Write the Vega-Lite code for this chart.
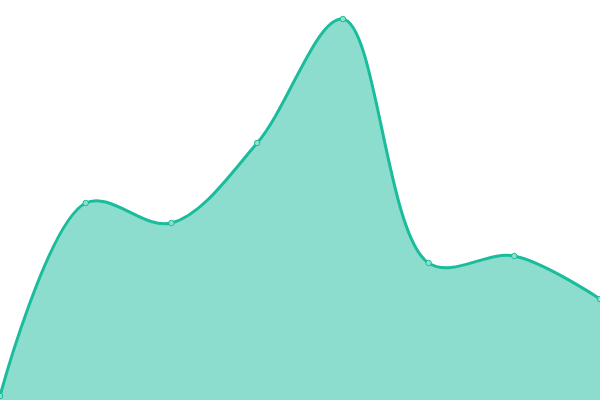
{
  "$schema": "https://vega.github.io/schema/vega-lite/v6.json",
  "autosize": "none",
  "width": 600,
  "height": 400,
  "padding": 0,
  "data": {
    "values": [
      {"i": 0, "v": 4},
      {"i": 1, "v": 197},
      {"i": 2, "v": 177},
      {"i": 3, "v": 257},
      {"i": 4, "v": 381},
      {"i": 5, "v": 137},
      {"i": 6, "v": 144},
      {"i": 7, "v": 101}
    ]
  },
  "encoding": {
    "x": {"field": "i", "type": "quantitative", "scale": {"domain": [0, 7], "nice": false}, "axis": null},
    "y": {"field": "v", "type": "quantitative", "scale": {"domain": [0, 400], "nice": false}, "axis": null}
  },
  "layer": [
    {"mark": {"type": "area", "interpolate": "catmull-rom", "color": "#1abc9c", "opacity": 0.5}},
    {"mark": {"type": "line", "interpolate": "catmull-rom", "color": "#1abc9c", "strokeWidth": 3}},
    {"mark": {"type": "point", "filled": true, "size": 30, "fill": "#8fe0cf", "stroke": "#1abc9c", "strokeWidth": 1, "opacity": 1}}
  ],
  "config": {"view": {"stroke": null}}
}
